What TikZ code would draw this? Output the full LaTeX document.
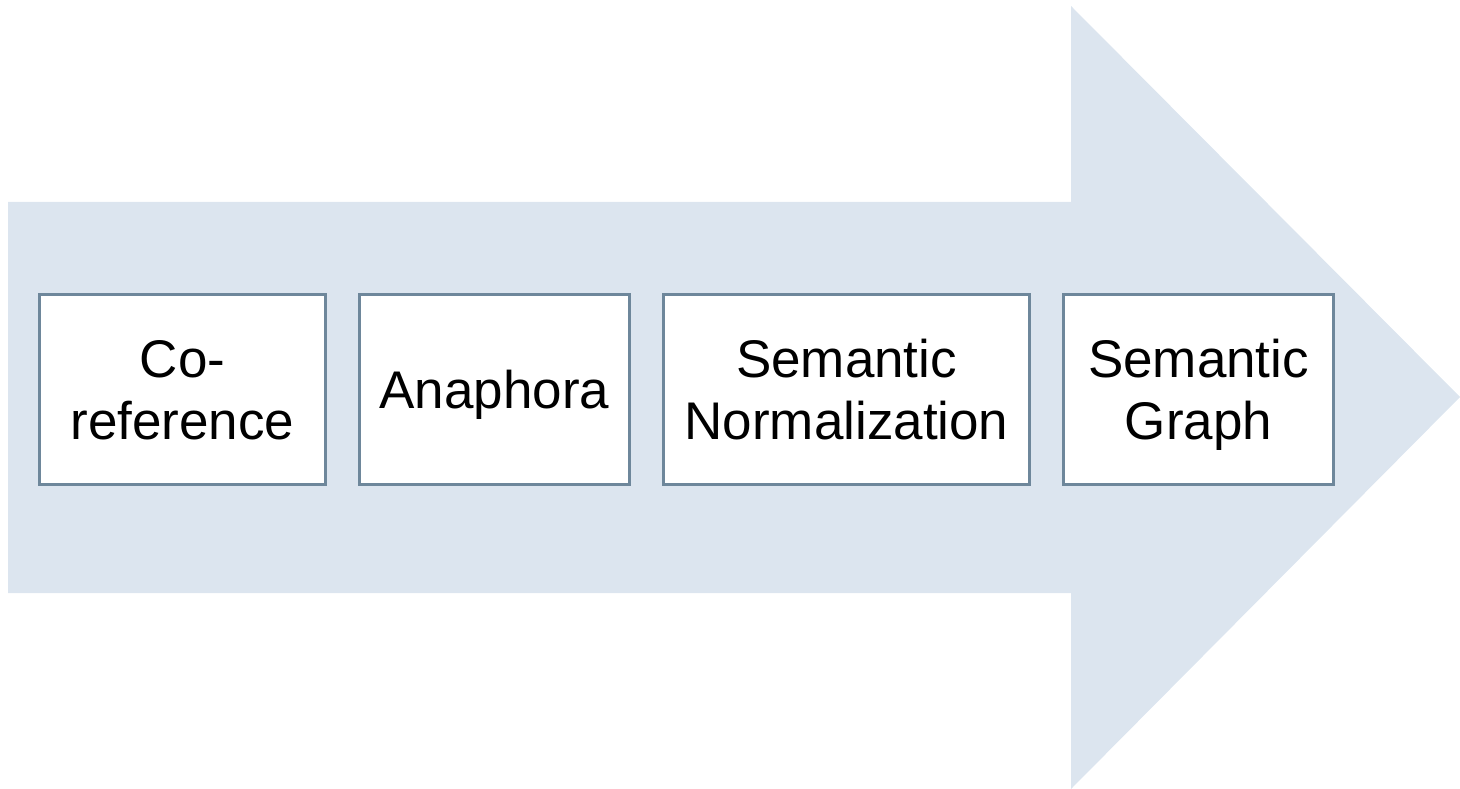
\documentclass[tikz,border=0pt]{standalone}
\usepackage{fontspec}
\setmainfont{Liberation Sans}
\definecolor{arrowfill}{RGB}{220,229,239}
\definecolor{boxline}{RGB}{110,135,155}

\begin{document}
\begin{tikzpicture}[x=1pt, y=-1pt]
        \useasboundingbox (0,0) rectangle (1460,789);
        % big arrow behind the steps
        \fill[arrowfill] (8,202) -- (1071,202) -- (1071,6) -- (1460,397)
            -- (1071,789) -- (1071,593) -- (8,593) -- cycle;
        \begin{scope}[every node/.style={draw=boxline, line width=3pt, fill=white, rectangle, minimum height=190pt, inner sep=0, text depth=0pt, align=center, font=\fontsize{53}{62}\selectfont}]
            \node [minimum width=286pt] (coref) at (182.5,389.5) {Co-\\reference};
            \node [minimum width=270pt] (anaph) at (494.5,389.5) {Anaphora};
            \node [minimum width=366pt] (norm) at (846.5,389.5) {Semantic\\Normalization};
            \node [minimum width=270pt] (graph) at (1198.5,389.5) {Semantic\\Graph};
        \end{scope}
    \end{tikzpicture}
\end{document}
